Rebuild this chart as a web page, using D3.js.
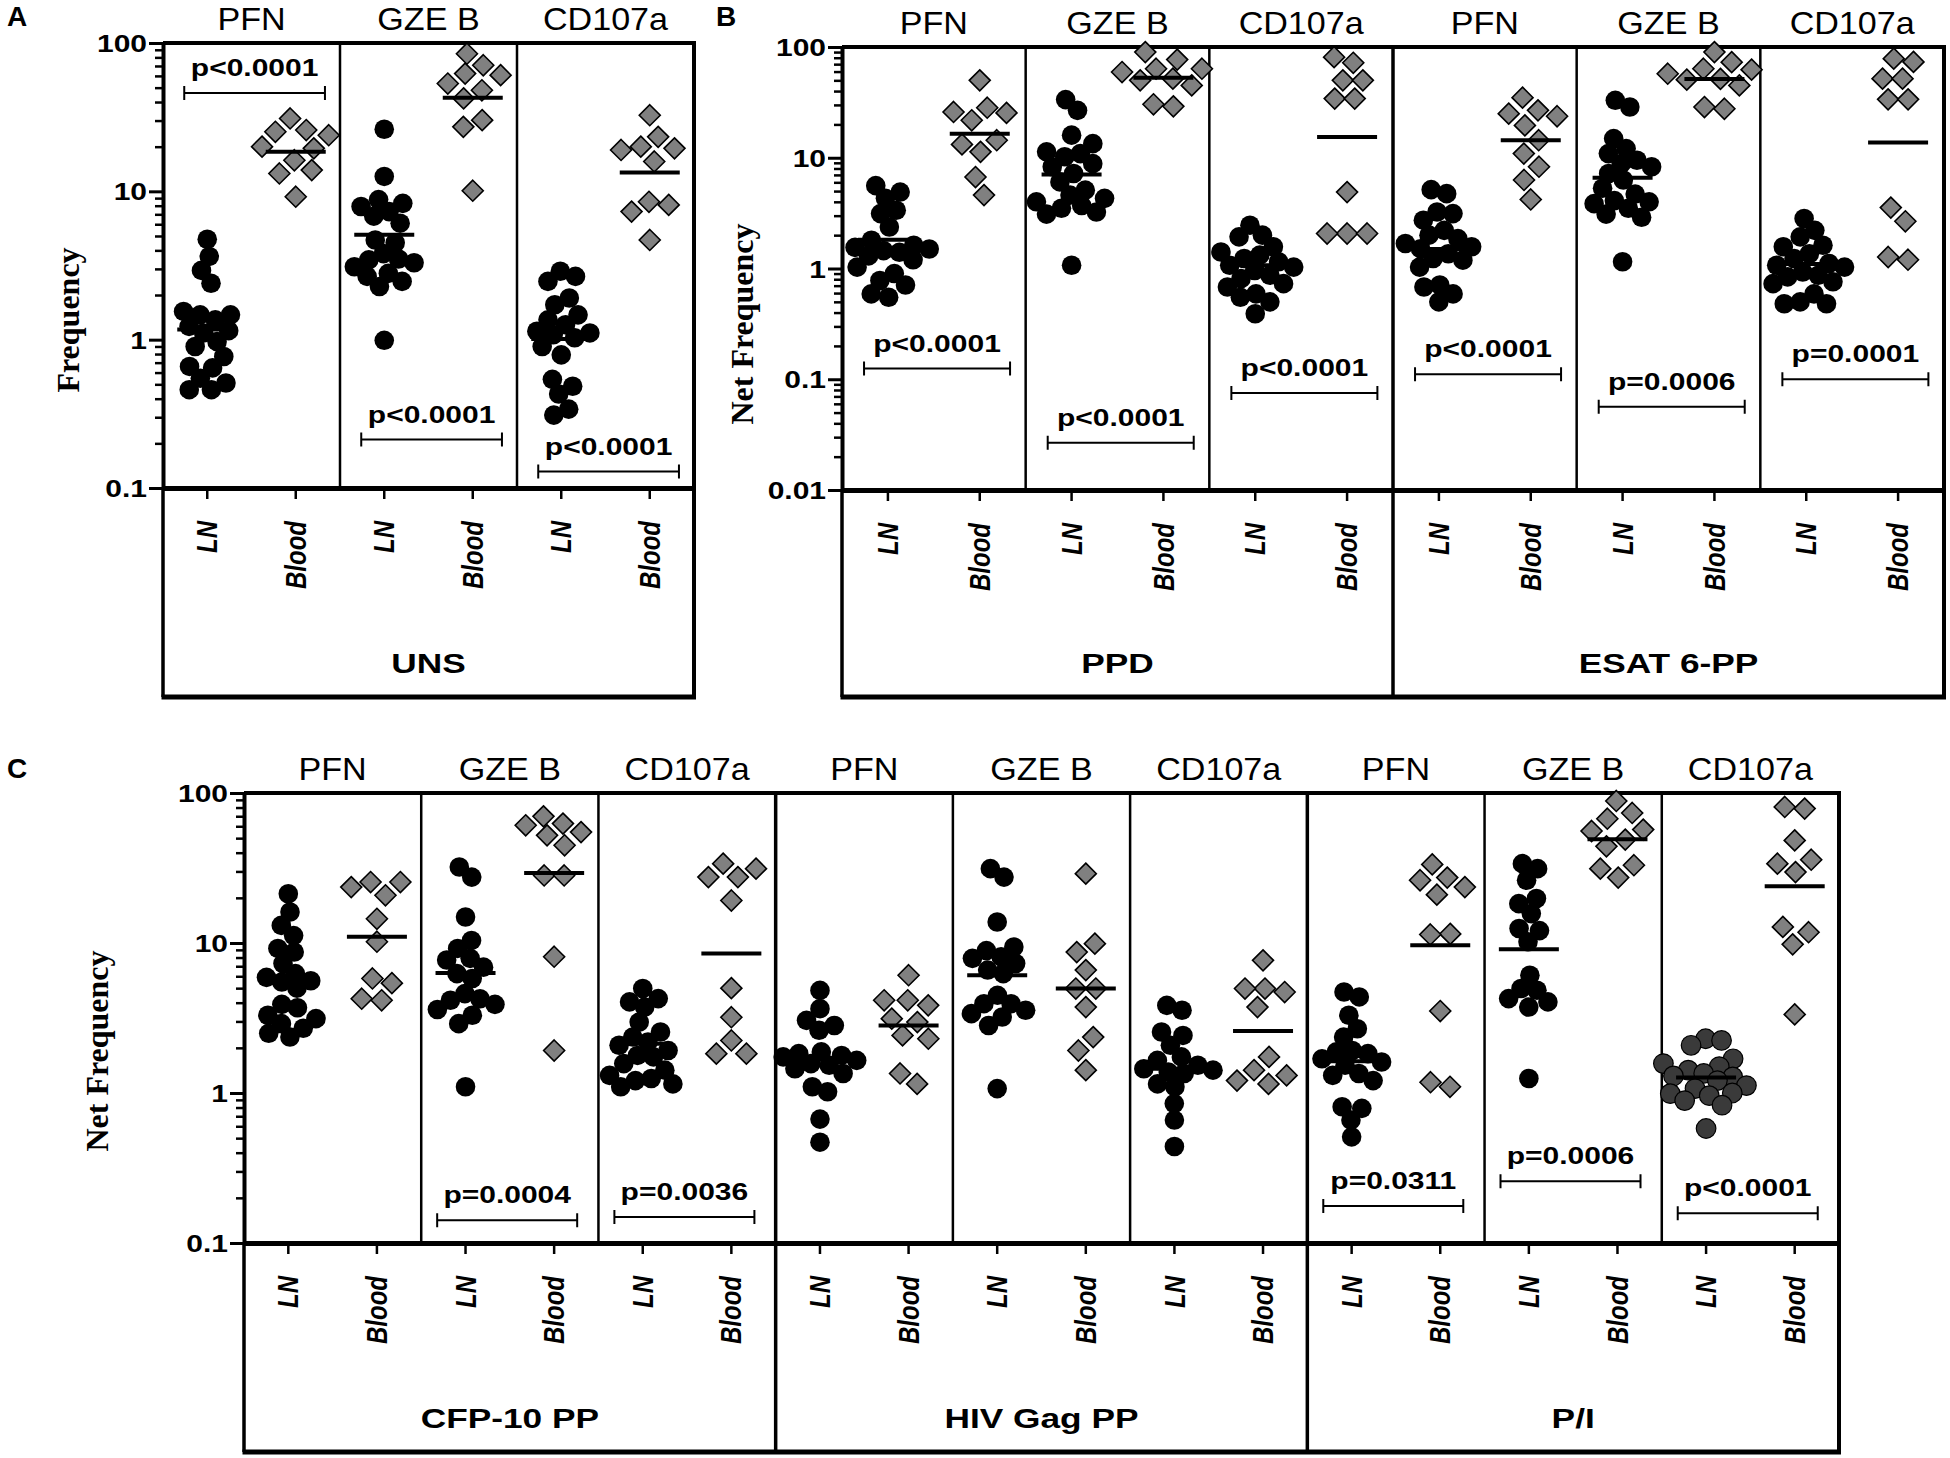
<!DOCTYPE html>
<html>
<head>
<meta charset="utf-8">
<script src="https://cdn.jsdelivr.net/npm/d3@7"></script>
<style>body{margin:0;background:#fff}</style>
</head>
<body>
<svg id="chart" width="1950" height="1458"></svg>
<script>
// markers measured and the two tissue sources
const markers = ["PFN", "GZE B", "CD107a"];
const sources = ["LN", "Blood"];
const ticksA = [0.1, 1, 10, 100];
const ticksB = [0.01, 0.1, 1, 10, 100];

// A: unstimulated
const unsLN = [
    [4.75, 3.64, 2.93, 2.40, 1.55, 1.47, 1.47, 1.36, 1.23, 1.15, 1.11, 0.97, 0.90, 0.77, 0.66, 0.645, 0.55, 0.51, 0.46, 0.46],
    [26.2, 12.6, 8.8, 8.3, 7.9, 7.3, 6.8, 6.1, 4.7, 4.5, 3.8, 3.5, 3.45, 3.3, 3.1, 2.8, 2.67, 2.47, 2.28, 0.99],
    [2.89, 2.67, 2.47, 1.91, 1.72, 1.47, 1.36, 1.26, 1.14, 1.11, 1.08, 1.03, 0.90, 0.79, 0.54, 0.485, 0.43, 0.34, 0.31]
];
const unsBlood = [
    [31, 25.9, 25.2, 23.9, 20, 19.5, 16.2, 13.9, 13.2, 9.2],
    [84.7, 70.8, 62.2, 60.7, 53.3, 48, 42.3, 30.2, 27.2, 10.1],
    [32.6, 23.3, 20, 19.5, 19, 15.9, 8.5, 8.1, 7.3, 4.7]
];
const unsLNMid = [1.17, 5.1, 1.01];
const unsBloodMid = [18.5, 42.7, 13.4];
const unsP = ["p<0.0001", "p<0.0001", "p<0.0001"];
const unsPAt = [46, 0.212, 0.129];

// B: PPD
const ppdLN = [
    [5.6, 4.9, 4.3, 3.36, 3.13, 2.37, 1.8, 1.62, 1.55, 1.5, 1.45, 1.4, 1.3, 1.2, 1.03, 0.9, 0.78, 0.71, 0.59, 0.55],
    [33.5, 26.8, 16, 13.4, 11.3, 10.9, 10.2, 8.85, 8.3, 7.2, 6.05, 5.1, 4.6, 4.3, 4.0, 3.7, 3.5, 3.24, 3.1, 1.07],
    [2.46, 2.0, 1.93, 1.57, 1.41, 1.32, 1.23, 1.15, 1.07, 1.03, 0.96, 0.87, 0.81, 0.73, 0.68, 0.59, 0.55, 0.5, 0.39]
];
const ppdBlood = [
    [50, 28.3, 25.9, 25.4, 21.8, 14.4, 13.2, 11.3, 6.7, 4.6],
    [90, 77, 63.7, 63.7, 59.4, 51.8, 50, 45, 30.4, 29.1],
    [81, 72, 50, 50, 34.2, 34.2, 4.9, 2.07, 2.07, 2.07]
];
const ppdLNMid = [1.82, 7.05, 1.07];
const ppdBloodMid = [16.5, 52.8, 15.4];
const ppdP = ["p<0.0001", "p<0.0001", "p<0.0001"];
const ppdPAt = [0.125, 0.0267, 0.0753];

// B: ESAT 6-PP
const esatLN = [
    [5.15, 4.74, 3.24, 3.13, 2.73, 2.21, 2.0, 1.86, 1.68, 1.57, 1.51, 1.36, 1.23, 1.19, 1.03, 0.71, 0.68, 0.59, 0.5],
    [33, 28.7, 14.9, 12.1, 10.9, 9.5, 8.85, 8.3, 7.2, 6.3, 5.3, 4.7, 4.1, 4.0, 3.85, 3.5, 3.1, 2.9, 1.15],
    [2.83, 2.21, 1.93, 1.62, 1.57, 1.36, 1.23, 1.11, 1.07, 1.03, 0.93, 0.87, 0.84, 0.76, 0.73, 0.59, 0.5, 0.48, 0.48]
];
const esatBlood = [
    [34.9, 26.8, 25, 23.7, 19.6, 14.4, 10.9, 8.3, 6.3, 4.2],
    [90, 73, 63.7, 62.4, 57.4, 51.5, 50.7, 45, 28.7, 27.7],
    [78.5, 73.3, 51.8, 51.8, 33.7, 33.7, 3.55, 2.67, 1.27, 1.2]
];
const esatLNMid = [1.5, 6.6, 1.1];
const esatBloodMid = [14.4, 51.4, 13.7];
const esatP = ["p<0.0001", "p=0.0006", "p=0.0001"];
const esatPAt = [0.111, 0.0564, 0.1002];

// C: CFP-10 PP
const cfpLN = [
    [21.3, 16.1, 13.1, 11.2, 9.2, 8.7, 7.3, 6.25, 5.9, 5.6, 5.5, 5.0, 3.9, 3.7, 3.3, 3.13, 2.9, 2.7, 2.5, 2.36],
    [32.1, 27.5, 14.9, 10.4, 9.2, 7.9, 7.7, 6.9, 6.25, 5.8, 4.6, 4.25, 4.15, 3.9, 3.6, 3.3, 2.9, 1.1],
    [4.97, 4.26, 4.05, 3.74, 2.97, 2.55, 2.36, 2.19, 2.08, 1.92, 1.78, 1.74, 1.57, 1.42, 1.31, 1.25, 1.21, 1.15, 1.1]
];
const cfpBlood = [
    [25.5, 25.5, 23.6, 20.8, 14.5, 10.2, 5.8, 5.4, 4.25, 4.15],
    [69.9, 62.5, 60.9, 54.9, 52.2, 44.8, 28.2, 28.2, 8.1, 1.92],
    [33.8, 31.3, 27.5, 27.5, 19.2, 5.0, 3.2, 2.24, 1.83, 1.83]
];
const cfpLNMid = [5.7, 6.3, 2.13];
const cfpBloodMid = [11.0, 29.3, 8.5];
const cfpP = [null, "p=0.0004", "p=0.0036"];
const cfpPAt = [null, 0.1416, 0.149];

// C: HIV Gag PP
const hivLN = [
    [4.83, 3.65, 3.05, 2.82, 2.62, 1.88, 1.83, 1.78, 1.74, 1.65, 1.57, 1.53, 1.45, 1.35, 1.1, 1.02, 0.67, 0.47],
    [31.3, 27.5, 13.8, 9.4, 8.9, 8.1, 7.9, 7.3, 6.6, 6.25, 4.48, 3.94, 3.94, 3.56, 3.38, 3.21, 2.82, 1.07],
    [3.84, 3.56, 2.55, 2.42, 2.08, 1.74, 1.65, 1.53, 1.45, 1.42, 1.38, 1.35, 1.15, 1.1, 0.85, 0.66, 0.44]
];
const hivBlood = [
    [6.1, 4.15, 4.15, 3.84, 3.13, 2.97, 2.42, 2.3, 1.35, 1.15],
    [29, 9.9, 8.7, 6.6, 4.97, 4.97, 3.74, 2.36, 1.92, 1.42],
    [7.66, 4.97, 4.97, 4.71, 3.74, 1.74, 1.42, 1.31, 1.21, 1.15]
];
const hivLNMid = [1.7, 6.09, 1.45];
const hivBloodMid = [2.82, 4.97, 2.59];
const hivP = [null, null, null];
const hivPAt = [null, null, null];

// C: P/I
const piLN = [
    [4.71, 4.37, 3.3, 2.68, 2.36, 1.92, 1.88, 1.83, 1.69, 1.61, 1.53, 1.35, 1.31, 1.21, 0.81, 0.79, 0.66, 0.51],
    [33.8, 31.3, 26.2, 19.8, 18.3, 15.7, 12.5, 12.1, 10.2, 6.1, 4.97, 4.84, 4.26, 4.05, 3.74, 1.25],
    [2.3, 2.24, 2.08, 1.69, 1.57, 1.5, 1.42, 1.35, 1.3, 1.28, 1.21, 1.12, 1.07, 1.0, 0.99, 0.96, 0.89, 0.83, 0.58]
];
const piBlood = [
    [33.4, 27.3, 26.2, 23.6, 21, 11.5, 11.4, 3.52, 1.18, 1.1],
    [88.5, 73.6, 67.4, 57, 55.8, 48.9, 44.1, 33, 31.3, 27.3],
    [80.7, 78.7, 48.3, 35.9, 33.8, 29.7, 12.8, 11.8, 9.8, 3.34]
];
const piLNMid = [1.63, 9.1, 1.27];
const piBloodMid = [9.65, 49.1, 23.9];
const piP = ["p=0.0311", "p=0.0006", "p<0.0001"];
const piPAt = [0.1766, 0.258, 0.158];

const SANS = "'Liberation Sans', Arial, sans-serif";
const SERIF = "'Liberation Serif', 'Times New Roman', serif";

const panels = [
    {
        letter: "A", lx: 7, ly: 26, title: "Frequency", titleX: 68, titleY: 320,
        x0: 163, x1: 694, yTop: 43, yBot: 488, boxBottom: 697, yMin: 0.1, ticks: ticksA,
        bracket: [0.12, 0.915],
        groups: [
            { name: "UNS", ln: unsLN, blood: unsBlood, lnMid: unsLNMid, bloodMid: unsBloodMid, p: unsP, pAt: unsPAt }
        ]
    },
    {
        letter: "B", lx: 716, ly: 26, title: "Net Frequency", titleX: 742, titleY: 324,
        x0: 842, x1: 1944, yTop: 47, yBot: 490, boxBottom: 697, yMin: 0.01, ticks: ticksB,
        bracket: [0.12, 0.915],
        groups: [
            { name: "PPD", ln: ppdLN, blood: ppdBlood, lnMid: ppdLNMid, bloodMid: ppdBloodMid, p: ppdP, pAt: ppdPAt },
            { name: "ESAT 6-PP", ln: esatLN, blood: esatBlood, lnMid: esatLNMid, bloodMid: esatBloodMid, p: esatP, pAt: esatPAt }
        ]
    },
    {
        letter: "C", lx: 7, ly: 778, title: "Net Frequency", titleX: 97, titleY: 1051,
        x0: 244, x1: 1839, yTop: 793, yBot: 1243, boxBottom: 1452, yMin: 0.1, ticks: ticksA,
        bracket: [0.09, 0.88],
        groups: [
            { name: "CFP-10 PP", ln: cfpLN, blood: cfpBlood, lnMid: cfpLNMid, bloodMid: cfpBloodMid, p: cfpP, pAt: cfpPAt },
            { name: "HIV Gag PP", ln: hivLN, blood: hivBlood, lnMid: hivLNMid, bloodMid: hivBloodMid, p: hivP, pAt: hivPAt },
            { name: "P/I", ln: piLN, blood: piBlood, lnMid: piLNMid, bloodMid: piBloodMid, p: piP, pAt: piPAt, darkLast: true }
        ]
    }
];

const svg = d3.select("#chart");

function label(g, x, y, s, o) {
    return g.append("text")
        .attr("transform", `translate(${x},${y}) scale(${o.sx || 1},1)` + (o.rot ? ` rotate(${o.rot})` : ""))
        .attr("text-anchor", o.anchor || "middle")
        .attr("dy", o.dy || null)
        .style("font-family", o.family || SANS)
        .style("font-size", o.size + "px")
        .style("font-weight", o.weight || "normal")
        .style("font-style", o.italic ? "italic" : "normal")
        .text(s);
}

// simple beeswarm: y is fixed, points only slide sideways (overlap allowed a bit)
function swarm(values, cx, y, r) {
    const nodes = values.map((v, i) => ({ v, fy: y(v), x: cx + (i % 2 ? 1 : -1) * (i % 5) }));
    const sim = d3.forceSimulation(nodes)
        .force("x", d3.forceX(cx).strength(0.1))
        .force("collide", d3.forceCollide(r))
        .stop();
    for (let i = 0; i < 220; i++) sim.tick();
    return nodes;
}

const diamond = h => `M0,${-h}L${h},0L0,${h}L${-h},0Z`;

function drawPanel(P) {
    const g = svg.append("g");
    const cols = [];
    P.groups.forEach((gr, gi) => markers.forEach((m, mi) => sources.forEach(s => {
        cols.push({ key: `${gi}-${mi}-${s}`, gi, mi, s });
    })));
    const x = d3.scaleBand().domain(cols.map(c => c.key)).range([P.x0, P.x1]);
    const y = d3.scaleLog().domain([P.yMin, 100]).range([P.yBot, P.yTop]);
    const bw = x.bandwidth();
    const subW = bw * 2;
    const nSub = P.groups.length * markers.length;

    // panel letter and y title
    label(g, P.lx, P.ly, P.letter, { size: 28, weight: "bold", anchor: "start" });
    label(g, P.titleX, P.titleY, P.title, { size: 32, weight: "bold", family: SERIF, rot: -90, dy: "0.35em" });

    // sub-panel dividers
    for (let k = 1; k < nSub; k++) {
        const xx = P.x0 + k * subW;
        const isGroup = k % markers.length === 0;
        g.append("line")
            .attr("x1", xx).attr("x2", xx)
            .attr("y1", P.yTop).attr("y2", isGroup ? P.boxBottom : P.yBot)
            .attr("stroke", "#000").attr("stroke-width", isGroup ? 3.5 : 2.5);
    }
    // frame: top, right, bottom box
    g.append("line").attr("x1", P.x0).attr("x2", P.x1 + 2).attr("y1", P.yTop).attr("y2", P.yTop)
        .attr("stroke", "#000").attr("stroke-width", 4);
    g.append("line").attr("x1", P.x1).attr("x2", P.x1).attr("y1", P.yTop).attr("y2", P.boxBottom)
        .attr("stroke", "#000").attr("stroke-width", 4);
    g.append("line").attr("x1", P.x0).attr("x2", P.x0).attr("y1", P.yBot).attr("y2", P.boxBottom)
        .attr("stroke", "#000").attr("stroke-width", 3.5);
    g.append("line").attr("x1", P.x0 - 1.5).attr("x2", P.x1 + 2).attr("y1", P.boxBottom).attr("y2", P.boxBottom)
        .attr("stroke", "#000").attr("stroke-width", 5);

    // y axis: minor then major ticks
    const minor = [];
    for (let e = Math.round(Math.log10(P.yMin)); e < 2; e++) {
        for (let d = 2; d <= 9; d++) minor.push(d * Math.pow(10, e));
    }
    const yMinor = g.append("g").attr("transform", `translate(${P.x0},0)`)
        .call(d3.axisLeft(y).tickValues(minor).tickSize(8).tickFormat(""));
    yMinor.select(".domain").remove();
    yMinor.selectAll("line").attr("stroke-width", 2.5);

    const yAxis = g.append("g").attr("transform", `translate(${P.x0},0)`)
        .call(d3.axisLeft(y).tickValues(P.ticks).tickSize(14).tickSizeOuter(0).tickFormat(d3.format("~g")));
    yAxis.select(".domain").attr("stroke-width", 4);
    yAxis.selectAll("line").attr("stroke-width", 3);
    yAxis.selectAll("text")
        .attr("x", 0)
        .attr("dy", "0.36em")
        .attr("transform", "translate(-16,0) scale(1.25,1)")
        .style("font-family", SANS).style("font-size", "24px").style("font-weight", "bold")
        .attr("fill", "#000");

    // x axis with category ticks
    const xAxis = g.append("g").attr("transform", `translate(0,${P.yBot})`)
        .call(d3.axisBottom(x).tickSize(11).tickSizeOuter(0).tickFormat(""));
    xAxis.select(".domain").attr("stroke-width", 5);
    xAxis.selectAll("line").attr("stroke-width", 2.5);

    // LN / Blood labels
    cols.forEach(c => {
        label(g, x(c.key) + bw / 2, P.yBot + 33, c.s,
            { size: 24, weight: "bold", italic: true, anchor: "end", rot: -90, sx: 1.2, dy: "0.35em" });
    });

    // headers and group names
    P.groups.forEach((gr, gi) => {
        markers.forEach((m, mi) => {
            const left = P.x0 + (gi * markers.length + mi) * subW;
            label(g, left + subW / 2, P.yTop - 13, m, { size: 31, sx: 1.1 });
        });
        const gl = P.x0 + gi * markers.length * subW;
        label(g, gl + markers.length * subW / 2, P.boxBottom - 24, gr.name,
            { size: 28, weight: "bold", sx: 1.26 });
    });

    // points, centre lines, p values
    P.groups.forEach((gr, gi) => {
        markers.forEach((m, mi) => {
            const lnX = x(`${gi}-${mi}-LN`) + bw / 2;
            const blX = x(`${gi}-${mi}-Blood`) + bw / 2;
            const dark = gr.darkLast && mi === markers.length - 1;

            g.append("g").selectAll("circle")
                .data(swarm(gr.ln[mi], lnX, y, 8))
                .join("circle")
                .attr("cx", d => d.x).attr("cy", d => d.fy).attr("r", 9.8)
                .attr("fill", dark ? "#3a3a3a" : "#000")
                .attr("stroke", "#000").attr("stroke-width", dark ? 1.2 : 0);

            g.append("g").selectAll("path")
                .data(swarm(gr.blood[mi], blX, y, 10))
                .join("path")
                .attr("d", diamond(10.5))
                .attr("transform", d => `translate(${d.x},${d.fy})`)
                .attr("fill", "#808080").attr("stroke", "#000").attr("stroke-width", 1.6);

            [[lnX, gr.lnMid[mi]], [blX, gr.bloodMid[mi]]].forEach(([cx, v]) => {
                g.append("line")
                    .attr("x1", cx - 30).attr("x2", cx + 30)
                    .attr("y1", y(v)).attr("y2", y(v))
                    .attr("stroke", "#000").attr("stroke-width", 4);
            });

            if (gr.p[mi]) {
                const left = P.x0 + (gi * markers.length + mi) * subW;
                const bx0 = left + P.bracket[0] * subW;
                const bx1 = left + P.bracket[1] * subW;
                const by = y(gr.pAt[mi]);
                g.append("path")
                    .attr("d", `M${bx0},${by - 7}V${by + 7}M${bx0},${by}H${bx1}M${bx1},${by - 7}V${by + 7}`)
                    .attr("fill", "none").attr("stroke", "#000").attr("stroke-width", 2);
                label(g, (bx0 + bx1) / 2, by - 17, gr.p[mi], { size: 24, weight: "bold", sx: 1.25 });
            }
        });
    });
}

panels.forEach(drawPanel);
</script>
</body>
</html>
